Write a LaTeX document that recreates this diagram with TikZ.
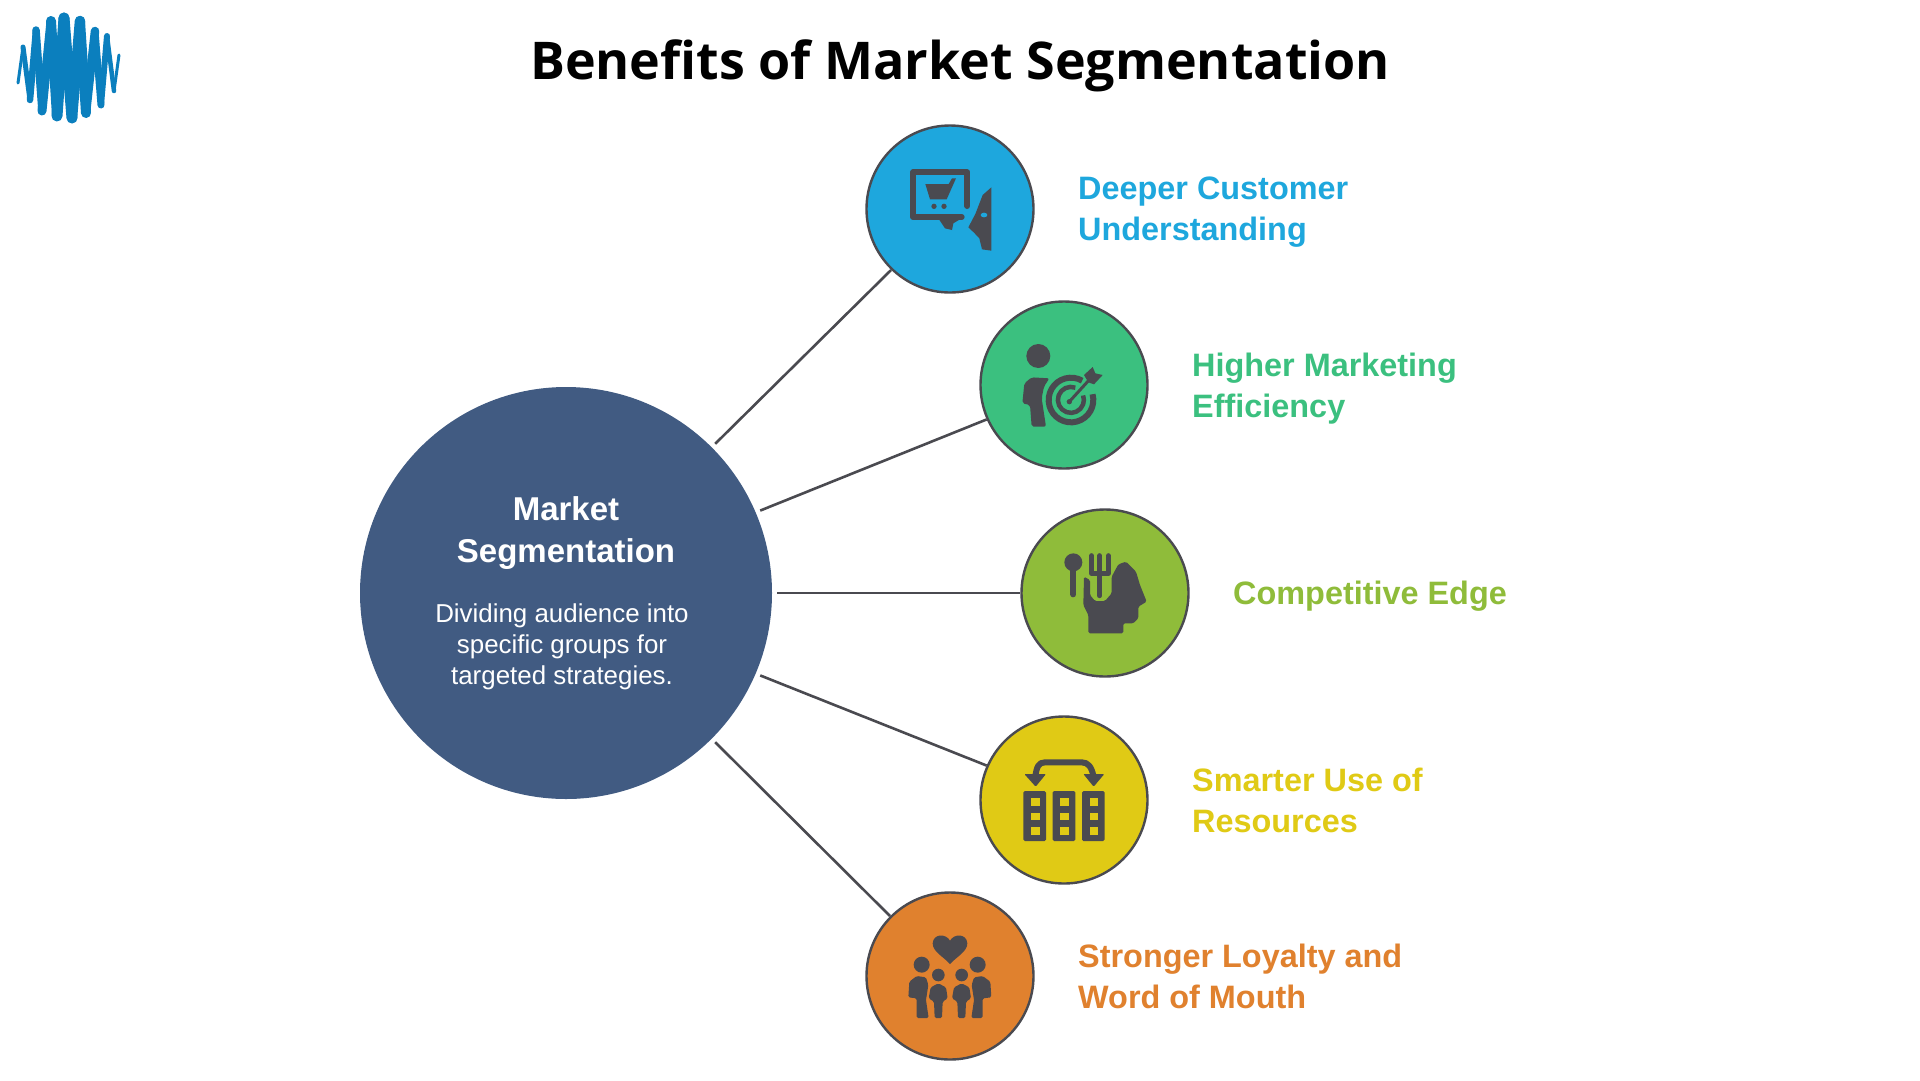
\documentclass[tikz,border=0pt]{standalone}
\usepackage{fontspec}
\setmainfont{Liberation Sans}
\newfontfamily\titlefont{Open Sans}
\definecolor{hubc}{HTML}{415B82}
\definecolor{bluec}{HTML}{1EA7DD}
\definecolor{greenc}{HTML}{3BC07F}
\definecolor{limec}{HTML}{8FBC3A}
\definecolor{yellowc}{HTML}{E0CA15}
\definecolor{orangec}{HTML}{E0812E}
\definecolor{inkc}{HTML}{4A4A50}
\definecolor{logoc}{HTML}{0B7FBE}
\tikzset{
  disc/.style={circle,draw=inkc,line width=2.4pt,minimum size=167pt,inner sep=0pt,fill=#1},
  link/.style={draw=inkc,line width=2.6pt},
  lab/.style={anchor=west,align=left,inner sep=0pt,font=\fontsize{32.4}{41}\selectfont\bfseries,text=#1},
  zoomed/.style 2 args={shift={(#1,#2)},x=0.33333pt,y=-0.33333pt},
  inkline/.style={draw=inkc,line cap=round,line join=round},
  wave/.style={draw=logoc,line cap=round}
}
\begin{document}
\begin{tikzpicture}[x=1pt,y=-1pt]
\useasboundingbox (0,0) rectangle (1920,1080);
\fill[white] (0,0) rectangle (1920,1080);

% logo
\foreach \xa/\ya/\xb/\yb/\w in {18/83/23/47/3,23/47/30/100/5,30/100/36/30/6.5,36/30/42/111/7.5,42/111/51/21/9,51/21/57/116/10,57/116/64/18/11,64/18/72/118/11,72/118/80/21/10.5,80/21/86/113/10,86/113/95/31/8.5,95/31/101/105/7,101/105/107/36/6,107/36/114/91/4.5,114/91/119/55/3}
  \draw[wave,line width=\w pt] (\xa,\ya) -- (\xb,\yb);

% title
\node[inner sep=0pt,font=\titlefont\fontsize{52}{60}\selectfont\bfseries] (title) at (960,66) {Benefits of Market Segmentation};

% hub
\node[circle,fill=hubc,minimum size=412pt,inner sep=0pt,outer sep=5pt] (hub) at (566,593) {};
\node[inner sep=0pt,align=center,text=white,font=\fontsize{33}{42}\selectfont\bfseries] (hubtitle) at (566,533.5) {Market\\Segmentation};
\node[inner sep=0pt,align=center,text=white,font=\fontsize{25.9}{31}\selectfont] (hubtext) at (562,646.5) {Dividing audience into\\specific groups for\\targeted strategies.};

% discs
\node[disc=bluec] (c1) at (950,209) {};
\node[disc=greenc] (c2) at (1064,385) {};
\node[disc=limec] (c3) at (1105,593) {};
\node[disc=yellowc] (c4) at (1064,800) {};
\node[disc=orangec] (c5) at (950,976) {};

% connectors
\draw[link] (hub.45) -- (c1.226);
\draw[link] (hub.23) -- (c2.204);
\draw[link] (hub.0) -- (c3.180);
\draw[link] (hub.-23) -- (c4.156);
\draw[link] (hub.-45) -- (c5.135);

% labels
\node[lab=bluec] (l1) at (1078,212.5) {Deeper Customer\\Understanding};
\node[lab=greenc] (l2) at (1192,388.5) {Higher Marketing\\Efficiency};
\node[lab=limec] (l3) at (1233,596.5) {Competitive Edge};
\node[lab=yellowc] (l4) at (1192,800) {Smarter Use of\\Resources};
\node[lab=orangec] (l5) at (1078,976.5) {Stronger Loyalty and\\Word of Mouth};

% icon 1: bubble with cart and face
\begin{scope}[zoomed={850}{110}]
  \draw[inkline,line width=6pt] (352,288) -- (352,187) -- (189,187) -- (189,321) -- (335,321);
  \fill[inkc] (265,325) -- (340,322) -- (310,340) -- (306,360) -- (285,355) -- cycle;
  \fill[inkc] (226,222) -- (296,222) -- (306,205) -- (318,205) -- (290,268) -- (240,268) -- cycle;
  \fill[inkc] (252,289) circle (8);
  \fill[inkc] (282,289) circle (8);
  \fill[inkc] (424,232) -- (424,422) -- (396,418) -- (388,385) -- (372,368) -- (355,352) -- (376,312) -- (398,255) -- cycle;
  \fill[bluec] (402,315) ellipse (10 and 7);
\end{scope}

% icon 2: person and target
\begin{scope}[zoomed={970}{295}]
  \fill[inkc] (205,183) circle (36);
  \fill[inkc,rounded corners=2pt] (157,325) -- (163,265) -- (185,247) -- (238,250) -- (222,275) -- (215,310) -- (228,395) -- (185,395) -- (180,330) -- cycle;
  \draw[inkline,line width=6pt,line cap=butt] (336.5,257) arc[start angle=-60,end angle=-375,radius=67];
  \draw[inkline,line width=4.5pt,line cap=butt] (316,278) arc[start angle=-70,end angle=-380,radius=39];
  \fill[inkc] (298,320) circle (8);
  \draw[inkline,line width=3pt] (298,320) -- (360,252);
  \fill[inkc] (342,240) -- (368,216) -- (376,235) -- (398,240) -- (372,268) -- (355,262) -- cycle;
\end{scope}

% icon 3: head with spoon and fork
\begin{scope}[zoomed={1010}{505}]
  \fill[inkc,rounded corners=1.5pt] (235,385) -- (235,330) -- (220,300) -- (222,215) -- (240,225) -- (240,270) -- (255,288) -- (285,288) -- (305,265) -- (305,215) -- (325,178) -- (348,170) -- (378,200) -- (390,240) -- (410,290) -- (385,305) -- (385,340) -- (370,355) -- (340,355) -- (340,385) -- cycle;
  \fill[inkc] (190,172) circle (27);
  \draw[inkline,line width=6pt] (190,195) -- (190,268);
  \draw[inkline,line width=5pt] (245,152) -- (245,205) -- (295,205) -- (295,152);
  \draw[inkline,line width=5pt] (269,152) -- (269,272);
\end{scope}

% icon 4: exchange arrow and three columns
\begin{scope}[zoomed={970}{710}]
  \draw[inkline,line width=6pt,line cap=butt] (195,205) .. controls (200,170) and (205,157) .. (225,157) -- (335,157) .. controls (355,157) and (365,170) .. (372,205);
  \fill[inkc,rounded corners=1pt] (163,192) -- (228,192) -- (197,230) -- cycle;
  \fill[inkc,rounded corners=1pt] (340,192) -- (403,192) -- (371,230) -- cycle;
  \foreach \xx in {160,248,336} {
    \fill[inkc,rounded corners=1.5pt] (\xx,243) rectangle +(68,150);
    \foreach \yy in {265,308,352}
      \fill[yellowc] (\xx+23,\yy) rectangle +(26,22);
  }
\end{scope}

% icon 5: family and heart
\begin{scope}[zoomed={860}{890}]
  \fill[inkc] (270,222) .. controls (250,200) and (218,185) .. (218,160) .. controls (220,130) and (258,130) .. (270,152) .. controls (282,130) and (320,130) .. (322,160) .. controls (322,185) and (290,200) .. (270,222) -- cycle;
  \fill[inkc] (185,224) circle (24);
  \fill[inkc] (353,224) circle (24);
  \fill[inkc] (235,255) circle (19);
  \fill[inkc] (305,255) circle (19);
  \fill[inkc,rounded corners=1.5pt] (145,322) -- (148,275) -- (170,258) -- (198,262) -- (205,285) -- (198,330) -- (206,384) -- (170,384) -- (170,325) -- cycle;
  \fill[inkc,rounded corners=1.5pt] (394,322) -- (391,275) -- (368,258) -- (342,262) -- (335,285) -- (342,330) -- (334,384) -- (368,384) -- (368,325) -- cycle;
  \fill[inkc,rounded corners=1.5pt] (206,325) -- (212,292) -- (235,280) -- (258,292) -- (263,325) -- (248,335) -- (246,384) -- (224,384) -- (222,335) -- cycle;
  \fill[inkc,rounded corners=1.5pt] (276,325) -- (282,292) -- (305,280) -- (328,292) -- (333,325) -- (318,335) -- (316,384) -- (294,384) -- (292,335) -- cycle;
\end{scope}
\end{tikzpicture}
\end{document}
